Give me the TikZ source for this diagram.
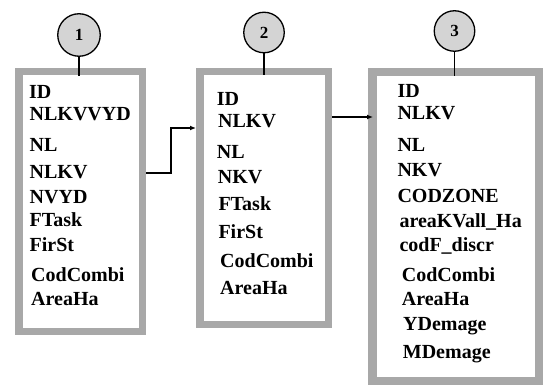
\documentclass[tikz,border=0pt]{standalone}
\usepackage{fontspec}
\setmainfont{Liberation Serif}
\usetikzlibrary{arrows.meta}
\definecolor{framegray}{RGB}{168,168,168}
\definecolor{discgray}{RGB}{212,212,212}
\newcommand{\fieldfont}{\fontsize{20}{20}\selectfont\bfseries}
\tikzset{
  tablebox/.style={draw=framegray,line width=7.5pt,fill=white,rectangle,inner sep=0pt},
  field/.style={anchor=base west,inner sep=0pt,font=\fieldfont},
  disc/.style={draw,circle,line width=1.3pt,fill=discgray,inner sep=0pt,font=\fontsize{17}{17}\selectfont\bfseries},
  stem/.style={line width=1.4pt},
  flow/.style={line width=1.4pt,-{Latex[length=6pt,width=5pt]}}
}
\begin{document}
\begin{tikzpicture}[x=1pt,y=-1pt]
  \useasboundingbox (0,0) rectangle (543,385);
  % tables
  \node[tablebox,minimum width=123.5pt,minimum height=259.5pt] (box1) at (80.5,201.5) {};
  \node[tablebox,minimum width=128.5pt,minimum height=252.5pt] (box2) at (264,198) {};
  \node[tablebox,line width=8.5pt,minimum width=166.5pt,minimum height=308.5pt] (box3) at (455.5,226.5) {};
  % numbered discs
  \node[disc,minimum size=42.5pt] (c1) at (79,35) {1};
  \node[disc,minimum size=40.5pt] (c2) at (264,32.5) {2};
  \node[disc,minimum size=40.5pt] (c3) at (454.5,31) {3};
  \draw[stem] (c1.south) -- ([yshift=-8pt]c1.south |- box1.north);
  \draw[stem] (c2.south) -- ([yshift=-7pt]c2.south |- box2.north);
  \draw[stem] (c3.south) -- ([yshift=-8pt]c3.south |- box3.north);
  % fields of table 1
  \node[field] (idA) at (29,98.5) {ID};
  \node[field] (nlkvvydA) at (29.5,120.7) {NLKVVYD};
  \node[field] (nlA) at (29.5,151.7) {NL};
  \node[field] (nlkvA) at (29.5,178.3) {NLKV};
  \node[field] (nvydA) at (29.5,203.3) {NVYD};
  \node[field] (ftaskA) at (29.5,226.7) {FTask};
  \node[field] (firstA) at (29.5,251.7) {FirSt};
  \node[field] (combiA) at (31,281.7) {CodCombi};
  \node[field] (areaA) at (31,305) {AreaHa};
  % fields of table 2
  \node[field] (idB) at (216.7,106) {ID};
  \node[field] (nlkvB) at (218,127.3) {NLKV};
  \node[field] (nlB) at (216.7,158.3) {NL};
  \node[field] (nkvB) at (217.7,183.3) {NKV};
  \node[field] (ftaskB) at (218.3,210.7) {FTask};
  \node[field] (firstB) at (218.3,238.3) {FirSt};
  \node[field] (combiB) at (220,267.5) {CodCombi};
  \node[field] (areaB) at (220,294) {AreaHa};
  % fields of table 3
  \node[field] (idC) at (397.3,97.7) {ID};
  \node[field] (nlkvC) at (397.3,120) {NLKV};
  \node[field] (nlC) at (397.3,151) {NL};
  \node[field] (nkvC) at (397.3,176.7) {NKV};
  \node[field] (zoneC) at (397.3,202.7) {CODZONE};
  \node[field] (kvallC) at (399.3,227.3) {areaKVall\_Ha};
  \node[field] (discrC) at (399.3,251.7) {codF\_discr};
  \node[field] (combiC) at (401.7,281.7) {CodCombi};
  \node[field] (areaC) at (401.7,305.7) {AreaHa};
  \node[field] (ydemC) at (403,330) {YDemage};
  \node[field] (mdemC) at (402.7,358.3) {MDemage};
  % links
  \coordinate (out1) at ([yshift=28.5pt]box1.east);
  \coordinate (in2) at ([yshift=70pt]box2.west);
  \coordinate (out2) at ([yshift=81pt]box2.east);
  \coordinate (in3) at ([xshift=5pt]out2 -| box3.west);
  \draw[flow] (out1) -- ++(25,0) |- (in2);
  \draw[flow] (out2) -- (in3);
\end{tikzpicture}
\end{document}
